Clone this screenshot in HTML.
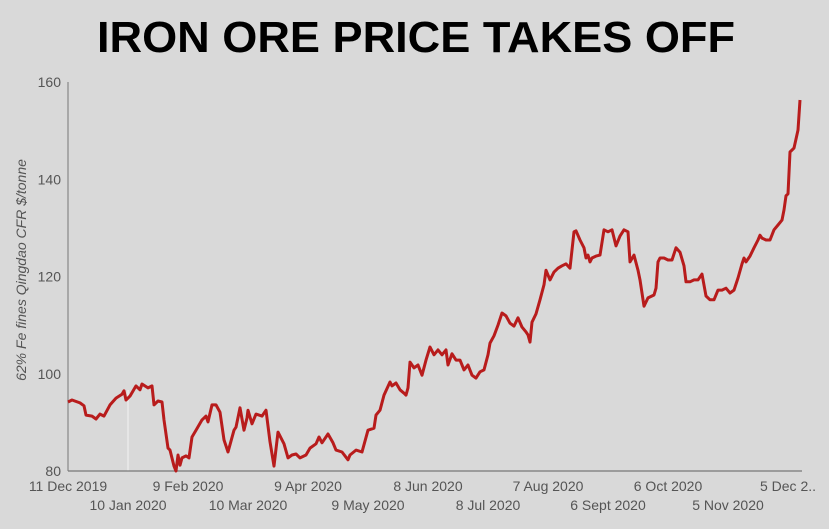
<!DOCTYPE html>
<html><head><meta charset="utf-8"><style>
html,body{margin:0;padding:0;background:#d9d9d9;}
svg{display:block;font-family:"Liberation Sans",sans-serif;}
</style></head><body>
<svg id="chart" width="829" height="529" viewBox="0 0 829 529">
<rect width="829" height="529" fill="#d9d9d9"/>
<text x="416" y="52" text-anchor="middle" font-size="44" font-weight="bold" fill="#000" textLength="638" lengthAdjust="spacingAndGlyphs">IRON ORE PRICE TAKES OFF</text>
<text transform="translate(26,270) rotate(-90)" text-anchor="middle" font-size="14" font-style="italic" fill="#555">62% Fe fines Qingdao CFR $/tonne</text>
<g id="yticks"></g><g id="xticks"></g>
<line x1="128" y1="390" x2="128" y2="471" stroke="#f4f4f4" stroke-width="1"/>
<line x1="68" y1="82" x2="68" y2="471" stroke="#888" stroke-width="1.2"/>
<line x1="68" y1="471" x2="802" y2="471" stroke="#777" stroke-width="1.2"/>
<path id="series" fill="none" stroke="#b81c1c" stroke-width="3" stroke-linejoin="round"/>
</svg>
<script>
const days=[0,2,6,8,9,12,14,16,18,21,24,27,28,29,31,34,36,37,40,42,43,45,47,48,50,51,53,54,55,56,57,59,60.5,62,64,67,69,70,72,74,76,78,80,83,84,86,88,89.5,90,92,94,97,99,101,103,105,108,110,112,114,116,119,121,124,125.5,127,130,132.5,134,137,140,141,144,147,150,153,154,156,158,161,162,164,166,168,169,170,171,173,175,177,179,181,183,185,187,189,190,192,194,196,198,200,202,204,206,208,210,211,213,215,217,219,221,223,225,227,229,230,231,232,234,236,238,239,241,243,245,247,249,251,253,254,256,258,259,260,261,262,264,266,268,270,272,274,276,278,280,281,283,285,286,288,290,293,294,295,296,298,300,302,304,306,308,309,311,313,315,317,319,321,323,325,327,329,331,333,335,337,338,339,341,343,345,346,347,349,351,353,355,357,358,359,360,361,363,365,366];
const prices=[94.2,94.6,94.0,93.4,91.5,91.3,90.7,91.7,91.3,93.6,95.0,95.8,96.5,94.6,95.4,97.5,96.7,97.9,97.1,97.5,93.6,94.4,94.2,90.5,84.7,84.3,81.0,80.0,83.3,81.2,82.7,83.1,82.7,87.0,88.4,90.5,91.3,90.1,93.6,93.6,92.1,86.4,83.9,88.4,89.0,93.0,88.4,90.9,92.5,89.7,91.7,91.3,92.5,86.0,81.0,88.0,85.6,82.7,83.3,83.5,82.7,83.3,84.7,85.6,87.0,85.8,87.6,85.8,84.3,83.9,82.3,83.3,84.3,83.9,88.4,88.8,91.5,92.5,95.6,98.3,97.5,98.1,96.7,96.0,95.6,97.1,102.4,101.2,101.8,99.7,102.8,105.5,103.9,104.9,103.9,104.9,101.8,104.1,102.8,102.8,100.8,101.8,99.7,99.1,100.4,100.8,103.9,106.3,107.8,110.0,112.5,111.9,110.4,109.8,111.5,109.6,108.6,108.0,106.5,110.6,112.3,115.2,118.3,121.3,119.3,120.9,121.7,122.2,122.6,121.7,129.2,129.4,127.5,125.9,123.8,124.4,123.0,123.8,124.2,124.4,129.6,129.2,129.6,126.3,128.3,129.6,129.2,123.0,124.4,121.3,119.3,113.9,115.6,116.2,117.6,123.0,123.8,123.8,123.4,123.4,125.9,125.0,122.2,118.9,118.9,119.3,119.3,120.5,116.0,115.2,115.2,117.2,117.2,117.6,116.6,117.2,119.7,122.6,123.8,123.0,124.2,125.9,127.5,128.5,127.9,127.5,127.5,129.6,130.6,131.6,133.7,136.6,137.0,145.6,146.4,150.1,156.3];
const yTicks=[80,100,120,140,160];
const xTickDays=[0,30,60,90,120,150,180,210,240,270,300,330,360];
const xTickLabels=["11 Dec 2019","10 Jan 2020","9 Feb 2020","10 Mar 2020","9 Apr 2020","9 May 2020","8 Jun 2020","8 Jul 2020","7 Aug 2020","6 Sept 2020","6 Oct 2020","5 Nov 2020","5 Dec 2.."];
const X=d=>68+d*2;
const Y=v=>471-(v-80)*(389/80);
const NS="http://www.w3.org/2000/svg";
const n=Math.min(days.length,prices.length);
let d="";
for(let i=0;i<n;i++){d+=(i?"L":"M")+X(days[i]).toFixed(1)+","+Y(prices[i]).toFixed(1);}
document.getElementById("series").setAttribute("d",d);
const yg=document.getElementById("yticks");
yTicks.forEach(v=>{
const t=document.createElementNS(NS,"text");


t.setAttribute("x",61);t.setAttribute("y",Y(v)+5);t.setAttribute("text-anchor","end");
t.setAttribute("font-size","14");t.setAttribute("fill","#555");t.textContent=v;yg.appendChild(t);
});
const xg=document.getElementById("xticks");
xTickDays.forEach((dd,i)=>{
const t=document.createElementNS(NS,"text");


t.setAttribute("x",X(dd));t.setAttribute("y",i%2?510:491);t.setAttribute("text-anchor","middle");
t.setAttribute("font-size","14");t.setAttribute("fill","#555");t.textContent=xTickLabels[i];xg.appendChild(t);
});
</script>
</body></html>
